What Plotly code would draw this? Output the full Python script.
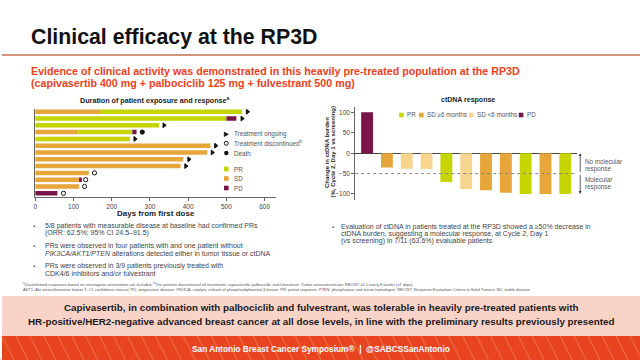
import plotly.graph_objects as go

W, H = 640, 360
def px(x): return x / W
def py(y): return 1 - y / H

FONT = "Liberation Sans, Arial, sans-serif"

# ---------------- Data: duration of exposure (left chart) ----------------
patients = list(range(1, 14))
seg1_days = [170, 500, 324, 113, 248, 458, 450, 387, 380, 140, 117, 115, 58]
seg1_resp = ['SD', 'PR', 'PR', 'SD', 'PR', 'SD', 'SD', 'SD', 'SD', 'SD', 'SD', 'SD', 'PD']
seg2_days = [371, 26, 0, 141, 0, 0, 0, 0, 0, 0, 5, 0, 0]
seg2_resp = ['PR', 'PD', 'PR', 'PR', 'PR', 'SD', 'SD', 'SD', 'SD', 'SD', 'PD', 'SD', 'PD']
seg3_days = [0, 0, 0, 11, 0, 0, 0, 0, 0, 0, 0, 0, 0]
seg3_resp = ['PD'] * 13
end_day = [555, 541, 337, 280, 261, 472, 463, 402, 394, 155, 132, 129, 74]
end_status = ['ongoing', 'ongoing', 'ongoing', 'death', 'ongoing', 'ongoing', 'ongoing',
              'ongoing', 'ongoing', 'discontinued', 'discontinued', 'discontinued', 'discontinued']
day_ticks = [0, 100, 200, 300, 400, 500, 600]

# ---------------- Data: ctDNA response (right chart) ----------------
ct_patients = list(range(1, 12))
ct_change = [101, -35, -38, -39, -71, -88, -91, -97, -100, -100, -100]
ct_resp = ['PD', 'SD6+', 'SD6-', 'SD6-', 'PR', 'SD6-', 'SD6+', 'SD6+', 'PR', 'SD6+', 'PR']
ct_ticks = [-100, -50, 0, 50, 100]

# ---------------- Styles ----------------
C_PR, C_SD, C_SDL, C_PD = '#c6d400', '#e6a63a', '#f8d58e', '#7a1548'
resp_color = {'PR': C_PR, 'SD': C_SD, 'PD': C_PD}
ct_color = {'PR': C_PR, 'SD6+': C_SD, 'SD6-': C_SDL, 'PD': C_PD}
end_symbol = {'ongoing': 'triangle-right', 'discontinued': 'circle-open', 'death': 'circle'}
AX = '#666666'
TXT = '#3a3a3a'
SMALL = 6.3

fig = go.Figure()

# stacked horizontal bars via base
base2 = [a for a in seg1_days]
base3 = [a + b for a, b in zip(seg1_days, seg2_days)]
for lens, resp, base in [(seg1_days, seg1_resp, [0] * 13),
                         (seg2_days, seg2_resp, base2),
                         (seg3_days, seg3_resp, base3)]:
    fig.add_trace(go.Bar(orientation='h', y=patients, x=lens, base=base,
                         marker=dict(color=[resp_color[r] for r in resp], line=dict(width=0)),
                         width=0.66, xaxis='x', yaxis='y', hoverinfo='skip'))

fig.add_trace(go.Scatter(x=end_day, y=patients, mode='markers', xaxis='x', yaxis='y',
                         marker=dict(symbol=[end_symbol[s] for s in end_status], size=4.2,
                                     color='#111111', line=dict(color='#111111', width=1)),
                         hoverinfo='skip'))

fig.add_trace(go.Bar(x=ct_patients, y=ct_change, xaxis='x2', yaxis='y2',
                     marker=dict(color=[ct_color[r] for r in ct_resp], line=dict(width=0)),
                     width=0.6, hoverinfo='skip'))

fig.update_layout(
    width=W, height=H, margin=dict(l=0, r=0, t=0, b=0),
    paper_bgcolor='white', plot_bgcolor='rgba(0,0,0,0)', showlegend=False,
    barmode='overlay', font=dict(family=FONT, color=TXT),
    xaxis=dict(domain=[px(33.3), px(275)], range=[0, 630], anchor='y',
               tickvals=day_ticks, ticks='outside', ticklen=3, tickcolor=AX,
               showline=True, linecolor=AX, linewidth=1, showgrid=False, zeroline=False,
               tickfont=dict(size=6.5, color='#444444')),
    yaxis=dict(domain=[py(196.7), py(109)], range=[13.5, 0.6], anchor='x',
               showline=True, linecolor=AX, linewidth=1, showgrid=False, zeroline=False,
               showticklabels=False, ticks=''),
    xaxis2=dict(domain=[px(354.3), px(577)], range=[0.4, 11.6], anchor='y2',
                showline=False, showgrid=False, zeroline=False, showticklabels=False, ticks=''),
    yaxis2=dict(domain=[py(200), py(107.3)], range=[-115, 113], anchor='x2',
                tickvals=ct_ticks, ticks='outside', ticklen=3, tickcolor=AX,
                showline=True, linecolor=AX, linewidth=1, showgrid=False,
                zeroline=True, zerolinecolor='#444444', zerolinewidth=1,
                tickfont=dict(size=6.5, color='#444444')),
)

shapes = []
ann = []

def text(x, y, s, size=7, color=TXT, bold=False, anchor='left', **kw):
    if bold:
        s = '<b>' + s + '</b>'
    ann.append(dict(x=px(x), y=py(y), xref='paper', yref='paper', text=s, showarrow=False,
                    xanchor=anchor, yanchor='middle', font=dict(size=size, color=color, family=FONT),
                    borderpad=0, **kw))

# ---- header ----
text(28.5, 37, 'Clinical efficacy at the RP3D', size=21.3, color='#111111', bold=True)
shapes.append(dict(type='line', xref='paper', yref='paper', x0=0, x1=1, y0=py(55), y1=py(55),
                   line=dict(color='#d4937c', width=2)))
text(28, 71.5, 'Evidence of clinical activity was demonstrated in this heavily pre-treated population at the RP3D',
     size=10.7, color='#e8411c', bold=True)
text(28, 83.3, '(capivasertib 400 mg + palbociclib 125 mg + fulvestrant 500 mg)',
     size=10.7, color='#e8411c', bold=True)

# ---- left chart texts ----
text(153, 100, 'Duration of patient exposure and response<sup>a</sup>', size=7.2, color='#222222', bold=True, anchor='center')
text(154, 213.5, 'Days from first dose', size=8, color='#222222', bold=True, anchor='center')

# left legend
shapes.append(dict(type='path', xref='paper', yref='paper',
                   path=f'M {px(223)} {py(132.2)} L {px(223)} {py(136.4)} L {px(227)} {py(134.3)} Z',
                   fillcolor='#111111', line=dict(color='#111111', width=0.8)))
shapes.append(dict(type='circle', xref='paper', yref='paper', x0=px(223), x1=px(227),
                   y0=py(145.3), y1=py(141.3), line=dict(color='#111111', width=1)))
shapes.append(dict(type='circle', xref='paper', yref='paper', x0=px(222.8), x1=px(227.2),
                   y0=py(155.2), y1=py(150.8), fillcolor='#111111', line=dict(color='#111111', width=0)))
for yy, lab in [(134.3, 'Treatment ongoing'), (143.3, 'Treatment discontinued<sup>b</sup>'), (153, 'Death')]:
    text(232, yy, lab, size=SMALL, color='#555555')
for yy, lab, col in [(169, 'PR', C_PR), (178.5, 'SD', C_SD), (188, 'PD', C_PD)]:
    shapes.append(dict(type='rect', xref='paper', yref='paper', x0=px(222.7), x1=px(227.3),
                       y0=py(yy + 2.3), y1=py(yy - 2.3), fillcolor=col, line=dict(width=0)))
    text(232, yy, lab, size=SMALL, color='#555555')

# ---- right chart texts ----
text(467, 100, 'ctDNA response', size=7, color='#222222', bold=True, anchor='center')
text(326, 152, 'Change in ctDNA burden', size=6, color='#222222', bold=True, anchor='center', textangle=-90)
text(332.5, 152, '(%, Cycle 2, Day 1 vs screening)', size=6, color='#222222', bold=True, anchor='center', textangle=-90)
for xx, lab, col in [(400.7, 'PR', C_PR), (420.7, 'SD ≥6 months', C_SD),
                     (470.7, 'SD <6 months', C_SDL), (520.7, 'PD', C_PD)]:
    shapes.append(dict(type='rect', xref='paper', yref='paper', x0=px(xx - 2.3), x1=px(xx + 2.3),
                       y0=py(117.3), y1=py(112.7), fillcolor=col, line=dict(width=0)))
    text(xx + 5, 115, lab, size=SMALL, color='#555555')
shapes.append(dict(type='line', xref='x2 domain', yref='y2', x0=0, x1=1, y0=-50, y1=-50,
                   line=dict(color='#888888', width=1, dash='dot')))
for tip in [0, -100]:
    ann.append(dict(x=px(580), y=tip, xref='paper', yref='y2', ax=0, ay=-50, axref='pixel',
                    ayref='y2', showarrow=True, arrowhead=2, arrowsize=0.7, arrowwidth=0.8,
                    arrowcolor='#333333', text='', standoff=0))
text(584, 161.7, 'No molecular', size=SMALL, color='#555555')
text(584, 168.9, 'response', size=SMALL, color='#555555')
text(584, 179.2, 'Molecular', size=SMALL, color='#555555')
text(584, 186.6, 'response', size=SMALL, color='#555555')

# ---- bullets ----
bul = [(226, '5/8 patients with measurable disease at baseline had confirmed PRs', True),
       (233.3, '(ORR: 62.5%; 95% CI 24.5–91.5)', False),
       (246, 'PRs were observed in four patients with and one patient without', True),
       (253.3, '<i>PIK3CA/AKT1/PTEN</i> alterations detected either in tumor tissue or ctDNA', False),
       (266, 'PRs were observed in 3/9 patients previously treated with', True),
       (273.3, 'CDK4/6 inhibitors and/or fulvestrant', False)]
for yy, s, b in bul:
    if b:
        text(30.5, yy, '▪', size=6, color='#555555')
    text(42.5, yy, s, size=7, color='#444444')
text(330.5, 226.7, '▪', size=6, color='#555555')
for yy, s in [(226.7, 'Evaluation of ctDNA in patients treated at the RP3D showed a ≥50% decrease in'),
              (233.8, 'ctDNA burden, suggesting a molecular response, at Cycle 2, Day 1'),
              (240.9, '(vs screening) in 7/11 (63.6%) evaluable patients')]:
    text(339, yy, s, size=7, color='#444444')

# ---- footnotes ----
text(20.5, 284.3, '<sup>a</sup>Unconfirmed responses based on investigator assessment are included. <sup>b</sup>The patients discontinued all treatments: capivasertib, palbociclib, and fulvestrant. Tumor assessments per RECIST v1.1 every 8 weeks (±7 days).',
     size=4, color='#555555')
text(20.5, 289, 'AKT1, Akt serine/threonine kinase 1; CI, confidence interval; PD, progressive disease; <i>PIK3CA</i>, catalytic subunit of phosphatidylinositol-3-kinase; PR, partial response; <i>PTEN</i>, phosphatase and tensin homologue; RECIST, Response Evaluation Criteria in Solid Tumors; SD, stable disease.',
     size=4, color='#555555')

# ---- conclusion box ----
shapes.append(dict(type='rect', xref='paper', yref='paper', x0=0, x1=1, y0=py(336), y1=py(296),
                   fillcolor='#fad3c8', line=dict(width=0), layer='below'))
text(320, 307.5, 'Capivasertib, in combination with palbociclib and fulvestrant, was tolerable in heavily pre-treated patients with',
     size=9.8, color='#1a1a1a', bold=True, anchor='center')
text(320, 321.5, 'HR-positive/HER2-negative advanced breast cancer at all dose levels, in line with the preliminary results previously presented',
     size=9.8, color='#1a1a1a', bold=True, anchor='center')

# ---- footer ----
shapes.append(dict(type='rect', xref='paper', yref='paper', x0=0, x1=1, y0=0, y1=py(336),
                   fillcolor='#e8441f', line=dict(width=0), layer='below'))
for i in range(-2, 50):
    x0 = i * 14
    shapes.append(dict(type='line', xref='paper', yref='paper', x0=px(x0), x1=px(x0 + 12),
                       y0=py(336), y1=0, line=dict(color='#ee6440', width=1.5), layer='below'))
text(320, 349, 'San Antonio Breast Cancer Symposium®  |  @SABCSSanAntonio',
     size=8.3, color='white', bold=True, anchor='center')

fig.update_layout(shapes=shapes, annotations=ann)
fig.write_html("out.html", config={'displayModeBar': False},
               post_script="document.body.style.margin='0';document.body.style.overflow='hidden';")
